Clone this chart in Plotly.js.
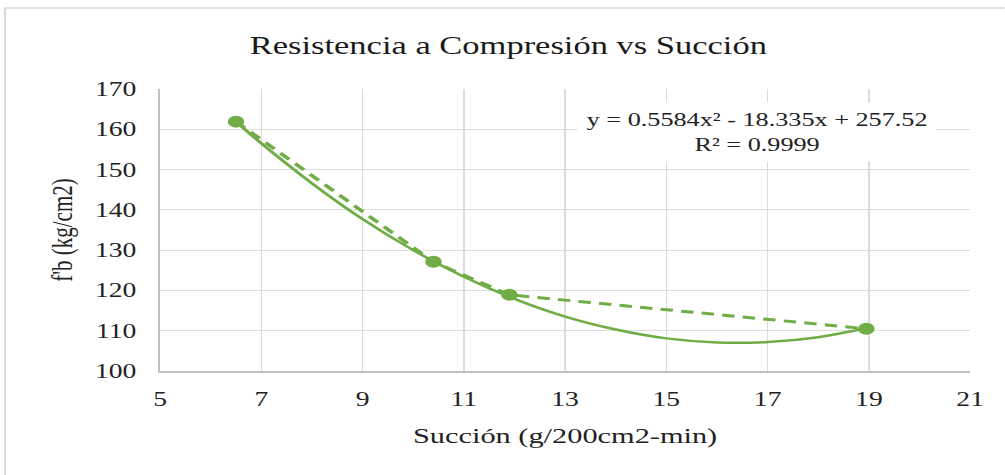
<!DOCTYPE html>
<html>
<head>
<meta charset="utf-8">
<script src="https://cdn.plot.ly/plotly-3.0.1.min.js"></script>
<style>
  html, body { margin: 0; padding: 0; background: #ffffff; overflow: hidden; }
  #wrap { width: 1005px; height: 475px; overflow: hidden; position: relative; }
  #plot { width: 728px; height: 475px; transform: scaleX(1.38); transform-origin: 0 0; }
</style>
</head>
<body>
<div id="wrap"><div id="plot"></div></div>
<script>
// Measured points
var succion = [6.5, 10.4, 11.9, 18.95];
var fb = [161.9, 127.1, 118.9, 110.5];

// Polynomial trendline
var trendX = [6.5, 7, 8, 9, 10, 11, 12, 13, 14, 15, 16, 17, 18, 18.95];
var trendY = [161.9, 156.5, 146.6, 137.7, 130.0, 123.4, 117.9, 113.5, 110.3, 108.1, 107.1, 107.2, 108.4, 110.6];

var xTicks = [5, 7, 9, 11, 13, 15, 17, 19, 21];
var yTicks = [100, 110, 120, 130, 140, 150, 160, 170];

var chartTitle = 'Resistencia a Compresión vs Succión';
var xTitle = 'Succión (g/200cm2-min)';
var yTitle = "f'b (kg/cm2)";
var eqText = 'y = 0.5584x² - 18.335x + 257.52<br>R² = 0.9999';

var green = '#70AD47';
var serif = 'Liberation Serif, Times New Roman, serif';
var txt = '#222222';

var traces = [
  {
    x: trendX, y: trendY, mode: 'lines', type: 'scatter',
    line: { color: green, width: 2.5, shape: 'spline' },
    hoverinfo: 'skip', showlegend: false
  },
  {
    x: succion, y: fb, mode: 'lines+markers', type: 'scatter',
    line: { color: green, width: 3, dash: '9px,6px' },
    marker: { color: green, size: 12 },
    showlegend: false
  }
];

var layout = {
  width: 728, height: 475,
  margin: { l: 116, r: 25, t: 89, b: 104 },
  paper_bgcolor: '#ffffff', plot_bgcolor: '#ffffff',
  font: { family: serif, color: txt },
  title: {
    text: chartTitle, font: { family: serif, size: 25, color: '#1a1a1a' },
    x: 0.506, xanchor: 'center', y: 0.905, yanchor: 'middle'
  },
  xaxis: {
    range: [5, 21], tickvals: xTicks, ticktext: xTicks.map(String),
    showgrid: true, gridcolor: '#dcdcdc', gridwidth: 1,
    showline: true, linecolor: '#bfbfbf', linewidth: 1.5,
    zeroline: false, ticks: '', ticklabelstandoff: 10,
    tickfont: { family: serif, size: 20, color: txt },
    title: { text: xTitle, font: { family: serif, size: 22, color: txt }, standoff: 18 }
  },
  yaxis: {
    range: [100, 170], tickvals: yTicks, ticktext: yTicks.map(String),
    showgrid: true, gridcolor: '#dcdcdc', gridwidth: 1.2,
    showline: true, linecolor: '#bfbfbf', linewidth: 1.2,
    zeroline: false, ticks: '', ticklabelstandoff: 12,
    tickfont: { family: serif, size: 20, color: txt },
    title: { text: yTitle, font: { family: serif, size: 21, color: txt }, standoff: 10 }
  },
  annotations: [{
    x: 16.79, y: 159.3, xref: 'x', yref: 'y', text: eqText, showarrow: false,
    font: { family: serif, size: 19, color: txt }, bgcolor: '#ffffff', borderpad: 6,
    align: 'center'
  }],
  shapes: [{
    type: 'rect', xref: 'paper', yref: 'paper',
    x0: -0.1915, x1: 1.6, y0: -0.6, y1: 1.287,
    line: { color: '#d9d9d9', width: 1.5 }, fillcolor: 'rgba(0,0,0,0)', layer: 'below'
  }]
};

Plotly.newPlot('plot', traces, layout, { staticPlot: true, displayModeBar: false });
</script>
</body>
</html>
